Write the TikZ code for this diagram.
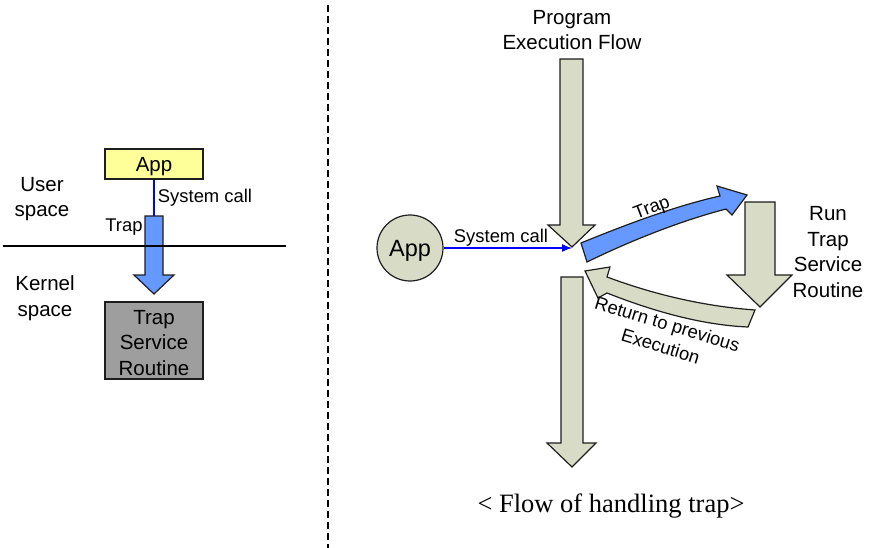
\documentclass[tikz,border=0pt]{standalone}
\usepackage{fontspec}
\setmainfont{Liberation Sans}
\newfontfamily\captionfont{Liberation Serif}
\usetikzlibrary{arrows.meta,positioning}
\definecolor{khaki}{RGB}{216,220,198}
\definecolor{trapblue}{RGB}{102,153,255}
\definecolor{appyellow}{RGB}{255,255,153}
\definecolor{kernelgray}{RGB}{158,158,158}
\definecolor{edge}{RGB}{30,30,30}
\begin{document}
\begin{tikzpicture}[x=1pt,y=-1pt,
    lbl/.style={font=\fontsize{20.5}{25.5}\selectfont, align=center, inner sep=0pt},
    small/.style={font=\fontsize{18.4}{23}\selectfont, align=center, inner sep=0pt},
    flow/.style={fill=khaki, draw=edge, line width=1.2pt},
    trapflow/.style={fill=trapblue, draw=edge, line width=1.2pt},
    call/.style={blue, line width=1.3pt}]
    \useasboundingbox (0,0) rectangle (886,548);
    %%Left: user space / kernel space
    \node[lbl, draw=edge, fill=appyellow, line width=1.2pt, minimum width=98pt, minimum height=30pt, text depth=0pt] (app) at (154,164) {App};
    \node[draw=edge, fill=kernelgray, line width=1.2pt, minimum width=98pt, minimum height=77pt] (tsr) at (154,340.5) {};
    \node[lbl] (tsrl) at (154,343) {Trap\\Service\\Routine};
    \coordinate (trapin) at (154,216);
    \draw[trapflow] (145,216) -- (163,216) -- (163,275) -- (174,275) -- (154,294) -- (134,275) -- (145,275) -- cycle;
    \draw[call] (app.south) -- (trapin);
    \draw[line width=1.2pt] (3,246) -- (286,246);
    \node[small] (sysl) at (205,198) {System call};
    \node[small] (trapl) at (124,227) {Trap};
    \node[lbl] (user) at (42,199) {User\\space};
    \node[lbl] (kernel) at (45,298) {Kernel\\space};
    %%Separator
    \draw[line width=1.5pt, dash pattern=on 7pt off 4pt] (328,5) -- (328,548);
    %%Right: flow of handling trap
    \node[lbl] (prog) at (572,30) {Program\\Execution Flow};
    \draw[flow] (560,59) -- (583,59) -- (583,225) -- (595,225) -- (572,247) -- (548,225) -- (560,225) -- cycle;
    \draw[flow] (561,277) -- (583,277) -- (583,443) -- (596,443) -- (572,467) -- (547,443) -- (561,443) -- cycle;
    \draw[flow] (745,202) -- (775,202) -- (775,275) -- (792,275) -- (760,307) -- (727,275) -- (745,275) -- cycle;
    \node[lbl] (run) at (828,252) {Run\\Trap\\Service\\Routine};
    %%Trap and return
    \draw[trapflow] (581,243) .. controls (625,225) and (675,206) .. (720,196) -- (717,186) -- (747,195) -- (732,215) -- (726,209) .. controls (680,221) and (630,241) .. (587,262) -- cycle;
    \node[small, rotate=21] (trapr) at (652,209) {Trap};
    \draw[flow] (585,271) -- (610,267) -- (607,277) .. controls (650,293) and (700,306) .. (755,310) -- (748,327) .. controls (700,325) and (650,310) .. (607,293) -- (598,298) -- cycle;
    \node[small, rotate=-17] (ret) at (664,335) {Return to previous\\Execution};
    %%App and system call
    \node[circle, draw=edge, fill=khaki, line width=1.2pt, minimum size=66pt, inner sep=0pt, text depth=0pt, font=\fontsize{23.5}{28}\selectfont] (appc) at (410,248) {App};
    \coordinate (entry) at (572,248);
    \draw[call, -{Latex[length=10pt,width=8pt]}] (appc) -- (entry);
    \node[small] (sysr) at (501,238) {System call};
    %%Caption
    \node[font=\captionfont\fontsize{26.5}{30}\selectfont, inner sep=0pt] (cap) at (611,506) {< Flow of handling trap>};
\end{tikzpicture}
\end{document}
